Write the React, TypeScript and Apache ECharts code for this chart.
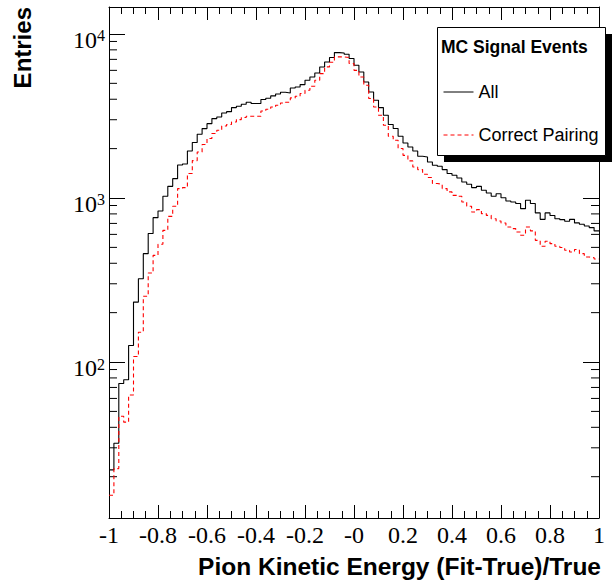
import React, { useEffect, useRef } from 'react';
import * as echarts from 'echarts';

// histogram binning: 100 bins of 0.02 from -1 to 1
const binLow = -1;
const binWidth = 0.02;

// entries per bin
const allEntries = [
  22, 32, 74, 78, 126, 232, 322, 458, 607, 759,
  833, 1024, 1178, 1312, 1589, 1611, 1935, 2178, 2445, 2648,
  2840, 3048, 3118, 3297, 3360, 3556, 3622, 3727, 3837, 3766,
  3766, 3985, 4059, 4191, 4309, 4410, 4370, 4685, 4753, 4913,
  5220, 5470, 5785, 6290, 6750, 7180, 7700, 7660, 7520, 7080,
  6440, 5860, 5100, 4430, 3945, 3556, 3193, 2804, 2650, 2378,
  2165, 2046, 1935, 1795, 1778, 1659, 1584, 1561, 1490, 1409,
  1375, 1325, 1253, 1213, 1157, 1178, 1114, 1072, 1024, 1062,
  1004, 959, 946, 925, 861, 968, 925, 811, 741, 811,
  783, 748, 738, 721, 741, 705, 692, 675, 660, 630,
];

const correctPairing = [
  15.4, 22.4, 46.7, 43, 63, 108, 152, 252, 349, 447,
  522, 635, 773, 890, 1141, 1157, 1409, 1690, 1909, 2118,
  2303, 2471, 2588, 2749, 2805, 2904, 3006, 3093, 3148, 3148,
  3148, 3390, 3473, 3589, 3674, 3796, 3834, 4075, 4170, 4331,
  4538, 4800, 5220, 5730, 6296, 6720, 7245, 7245, 7180, 6600,
  6000, 5470, 4870, 4040, 3590, 3193, 2775, 2378, 2250, 2002,
  1820, 1683, 1546, 1490, 1395, 1333, 1225, 1213, 1141, 1089,
  1038, 1024, 946, 890, 822, 849, 803, 784, 748, 724,
  704, 666, 651, 621, 593, 666, 630, 552, 508, 545,
  527, 508, 499, 480, 469, 485, 458, 437, 433, 425,
];

const xTickLabels = ['-1', '-0.8', '-0.6', '-0.4', '-0.2', '-0', '0.2', '0.4', '0.6', '0.8', '1'];

// log-axis minor ticks (2..9 per decade)
const yMinorTicks = [
  20, 30, 40, 50, 60, 70, 80, 90,
  200, 300, 400, 500, 600, 700, 800, 900,
  2000, 3000, 4000, 5000, 6000, 7000, 8000, 9000,
];

const toSteps = (vals: number[]) => {
  const pts = vals.map((v, i) => [binLow + binWidth * i, v]);
  pts.push([binLow + binWidth * vals.length, vals[vals.length - 1]]);
  return pts;
};

const serif = 'Liberation Serif';
const sans = 'Liberation Sans';

export default function App() {
  const chartRef = useRef<HTMLDivElement>(null);

  useEffect(() => {
    if (!chartRef.current) return;
    const chart = echarts.init(chartRef.current, null, { renderer: 'svg' });

    const xCommon = {
      type: 'value',
      min: -1,
      max: 1,
      interval: 0.2,
      axisLine: { onZero: false, lineStyle: { color: '#000', width: 1 } },
      axisTick: { inside: true, length: 13, lineStyle: { color: '#000' } },
      minorTick: { show: true, splitNumber: 4, length: 7, lineStyle: { color: '#000' } },
      splitLine: { show: false },
    };
    const yCommon = {
      type: 'log',
      logBase: 10,
      min: 11.2,
      max: 14600,
      axisLine: { onZero: false, lineStyle: { color: '#000', width: 1 } },
      axisTick: { inside: true, length: 16, lineStyle: { color: '#000' } },
      splitLine: { show: false },
    };

    const option = {
      animation: false,
      grid: { left: 109, right: 13, top: 7, bottom: 62, outerBoundsMode: 'none' },
      xAxis: [
        {
          ...xCommon,
          position: 'bottom',
          axisLabel: {
            margin: 5,
            fontFamily: serif,
            fontSize: 24,
            color: '#000',
            formatter: (v: number) => xTickLabels[Math.round((v - binLow) / 0.2)] ?? '',
          },
        },
        { ...xCommon, position: 'top', axisLabel: { show: false } },
      ],
      yAxis: [
        {
          ...yCommon,
          position: 'left',
          axisLabel: {
            margin: 4,
            padding: [12, 0, 0, 0],
            showMinLabel: false,
            showMaxLabel: false,
            formatter: (v: number) => {
              const e = Math.log10(v);
              if (Math.abs(e - Math.round(e)) > 1e-6) return '';
              return '{b|10}{e|' + Math.round(e) + '}';
            },
            rich: {
              b: { fontFamily: serif, fontSize: 24, color: '#000' },
              e: { fontFamily: serif, fontSize: 16, color: '#000', verticalAlign: 'top' },
            },
          },
        },
        { ...yCommon, position: 'right', axisLabel: { show: false } },
      ],
      legend: {
        data: ['All', 'Correct Pairing'],
        orient: 'vertical',
        left: 437,
        top: 27,
        padding: [56, 9, 14, 6],
        itemWidth: 30,
        itemHeight: 14,
        itemGap: 25,
        z: 110,
        itemStyle: { opacity: 0, borderWidth: 0 },
        lineStyle: { width: 1 },
        textStyle: { fontFamily: sans, fontSize: 18, color: '#000' },
      },
      graphic: [
        {
          type: 'rect',
          z: 100,
          shape: { x: 444, y: 34, width: 169, height: 128 },
          style: { fill: '#000' },
        },
        {
          type: 'rect',
          z: 101,
          shape: { x: 437.5, y: 27.5, width: 168, height: 128 },
          style: { fill: '#fff', stroke: '#000', lineWidth: 1 },
        },
        {
          type: 'text',
          z: 110,
          x: 441,
          y: 47,
          style: {
            text: 'MC Signal Events',
            font: `bold 17.5px "${sans}"`,
            fill: '#000',
            textVerticalAlign: 'middle',
          },
        },
        {
          type: 'text',
          x: 601,
          y: 566,
          style: {
            text: 'Pion Kinetic Energy (Fit-True)/True',
            font: `bold 24.5px "${sans}"`,
            fill: '#000',
            textAlign: 'right',
            textVerticalAlign: 'middle',
          },
        },
        {
          type: 'text',
          x: 22,
          y: 7,
          rotation: Math.PI / 2,
          style: {
            text: 'Entries',
            font: `bold 24px "${sans}"`,
            fill: '#000',
            textAlign: 'right',
            textVerticalAlign: 'middle',
          },
        },
      ],
      series: [
        {
          name: 'All',
          type: 'line',
          step: 'end',
          symbol: 'none',
          data: toSteps(allEntries),
          lineStyle: { color: '#000', width: 1.1 },
          itemStyle: { color: '#000' },
        },
        {
          name: 'Correct Pairing',
          type: 'line',
          step: 'end',
          symbol: 'none',
          data: toSteps(correctPairing),
          lineStyle: { color: '#ff0000', width: 1.1, type: [4, 3] },
          itemStyle: { color: '#ff0000' },
        },
        {
          name: 'minorTicks',
          type: 'custom',
          silent: true,
          clip: false,
          data: yMinorTicks.map((v) => [-1, v]),
          renderItem: (_params: any, api: any) => {
            const v = api.value(1);
            const l = api.coord([-1, v]);
            const r = api.coord([1, v]);
            const s = { stroke: '#000', lineWidth: 1 };
            return {
              type: 'group',
              children: [
                { type: 'line', shape: { x1: l[0], y1: l[1], x2: l[0] + 8, y2: l[1] }, style: s },
                { type: 'line', shape: { x1: r[0] - 8, y1: r[1], x2: r[0], y2: r[1] }, style: s },
              ],
            };
          },
        },
      ],
    };

    chart.setOption(option as any);
    return () => chart.dispose();
  }, []);

  return (
    <div
      ref={chartRef}
      style={{ position: 'absolute', left: 0, top: 0, width: 612, height: 580, background: '#fff' }}
    />
  );
}
